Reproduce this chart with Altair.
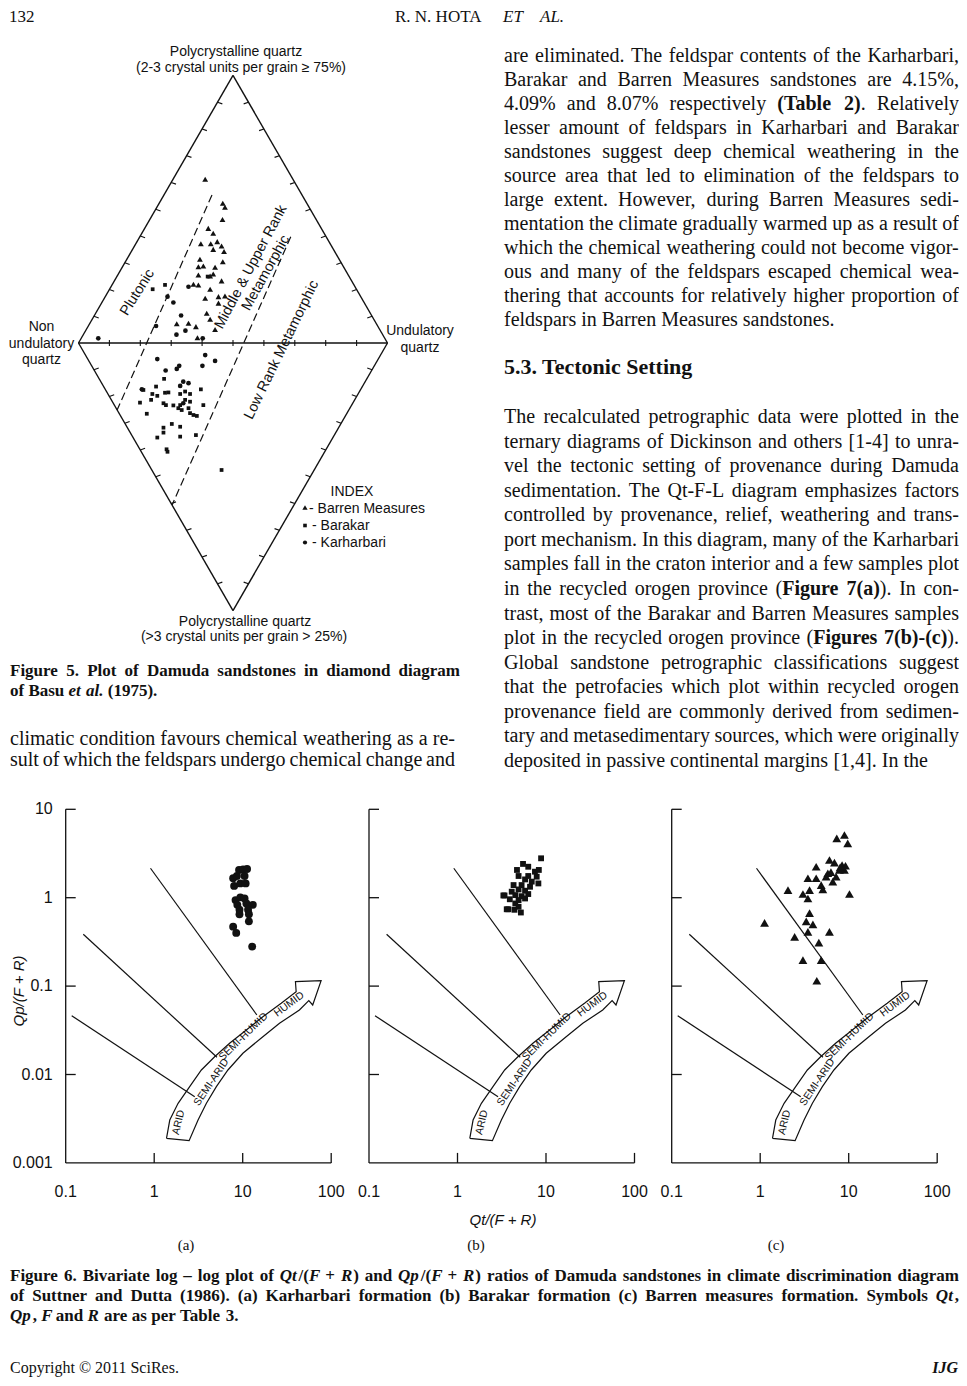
import altair as alt
import pandas as pd

# ====================== DATA ======================
HEADER_LEFT = "132"
HEADER_AUTHOR = "R. N. HOTA"
HEADER_ETAL = ["ET", "AL."]

RIGHT_PARA_1 = [
    "are eliminated. The feldspar contents of the Karharbari,",
    "Barakar and Barren Measures sandstones are 4.15%,",
    "4.09% and 8.07% respectively **(Table 2)**. Relatively",
    "lesser amount of feldspars in Karharbari and Barakar",
    "sandstones suggest deep chemical weathering in the",
    "source area that led to elimination of the feldspars to",
    "large extent. However, during Barren Measures sedi-",
    "mentation the climate gradually warmed up as a result of",
    "which the chemical weathering could not become vigor-",
    "ous and many of the feldspars escaped chemical wea-",
    "thering that accounts for relatively higher proportion of",
    "feldspars in Barren Measures sandstones.",
]
SECTION_HEADING = "5.3. Tectonic Setting"
RIGHT_PARA_2 = [
    "The recalculated petrographic data were plotted in the",
    "ternary diagrams of Dickinson and others [1-4] to unra-",
    "vel the tectonic setting of provenance during Damuda",
    "sedimentation. The Qt-F-L diagram emphasizes factors",
    "controlled by provenance, relief, weathering and trans-",
    "port mechanism. In this diagram, many of the Karharbari",
    "samples fall in the craton interior and a few samples plot",
    "in the recycled orogen province (**Figure 7(a)**). In con-",
    "trast, most of the Barakar and Barren Measures samples",
    "plot in the recycled orogen province (**Figures 7(b)-(c)**).",
    "Global sandstone petrographic classifications suggest",
    "that the petrofacies which plot within recycled orogen",
    "provenance field are commonly derived from sedimen-",
    "tary and metasedimentary sources, which were originally",
    "deposited in passive continental margins [1,4]. In the",
]
FIG5_CAPTION = [
    "Figure 5. Plot of Damuda sandstones in diamond diagram",
    "of Basu _et al._ (1975).",
]
LEFT_TEXT = [
    "climatic condition favours chemical weathering as a re-",
    "sult of which the feldspars undergo chemical change and",
]
FIG6_CAPTION = [
    "Figure 6. Bivariate log – log plot of _Qt_/(_F_ + _R_) and _Qp_/(_F_ + _R_) ratios of Damuda sandstones in climate discrimination diagram",
    "of Suttner and Dutta (1986). (a) Karharbari formation (b) Barakar formation (c) Barren measures formation. Symbols _Qt_,",
    "_Qp_, _F_ and _R_ are as per Table 3.",
]
COPYRIGHT = "Copyright © 2011 SciRes."
JOURNAL = "IJG"

# diamond diagram labels
DIA_TOP_LABEL = ["Polycrystalline quartz", "(2-3 crystal units per grain ≥ 75%)"]
DIA_BOTTOM_LABEL = ["Polycrystalline quartz", "(>3 crystal units per grain > 25%)"]
DIA_LEFT_LABEL = ["Non", "undulatory", "quartz"]
DIA_RIGHT_LABEL = ["Undulatory", "quartz"]
DIA_FIELDS = ["Plutonic", "Middle & Upper Rank", "Metamorphic", "Low Rank Metamorphic"]
INDEX_TITLE = "INDEX"
INDEX_LABELS = ["- Barren Measures", "- Barakar", "- Karharbari"]

# diamond samples: u = 0..100 from non-undulatory to undulatory corner,
# v = +86.6 (2-3 units) .. -86.6 (>3 units)
BARREN_U = [41.0, 46.7, 47.4, 46.6, 42.0, 43.6, 39.6, 42.8, 44.9, 46.3,
            43.6, 47.1, 39.3, 46.7, 38.8, 40.4, 44.2, 38.8, 42.6, 43.6,
            46.3, 37.2, 38.8, 42.6, 41.0, 45.3, 47.4, 45.3, 41.5, 42.6,
            35.6, 31.8, 38.0, 44.2, 38.5]
BARREN_V = [53.0, 45.2, 43.9, 40.0, 37.1, 35.5, 32.1, 32.1, 32.8, 31.4,
            30.3, 29.6, 27.1, 26.3, 24.7, 24.9, 24.5, 22.0, 21.7, 22.3,
            20.1, 19.0, 18.8, 17.4, 14.5, 15.0, 15.2, 12.9, 9.6, 7.7,
            6.4, 6.2, 5.3, 4.4, 1.7]
BARAKAR_U = [24.0, 28.0, 41.8,
             27.7, 25.1, 21.0, 23.9, 25.5, 23.5, 19.9, 22.1, 27.5, 28.3,
             30.7, 29.1, 28.0, 32.9, 34.5, 36.1, 39.6, 34.5, 36.1, 32.9,
             32.3, 33.4, 35.6, 37.2, 36.1, 40.4, 38.3, 30.2, 27.5, 32.9,
             27.5, 25.5, 32.9, 38.0, 28.5, 28.8, 46.3]
BARAKAR_V = [17.4, 18.8, 21.5,
             -11.6, -14.1, -15.2, -16.5, -17.1, -18.4, -19.3, -22.9, -19.5, -20.1,
             -20.2, -16.0, -16.1, -16.5, -15.7, -16.5, -15.0, -18.4, -19.0, -20.1,
             -21.1, -21.7, -21.1, -23.3, -22.7, -20.1, -23.6, -26.2, -27.4, -27.1,
             -29.0, -30.6, -30.3, -29.8, -34.4, -35.2, -41.1]
KARHAR_U = [6.4, 28.8, 30.7, 35.6, 33.2, 25.1, 31.7, 34.6, 40.2,
            25.5, 41.0, 44.2, 40.1, 28.2, 31.8, 32.6, 33.9, 35.6, 32.9, 20.5, 33.9]
KARHAR_V = [1.5, 15.0, 13.1, 18.2, 8.9, 5.5, 2.7, 4.0, 1.5,
            -5.2, -3.9, -5.8, -7.4, -8.9, -8.4, -7.4, -12.5, -13.0, -13.9, -15.0, -19.5]
# dashed field boundaries (u1, v1, u2, v2)
DIA_DASHED = [(43.2, 47.9, 12.5, -21.7), (68.7, 34.4, 30.3, -52.4)]

# climate diagram samples (Qt/(F+R), Qp/(F+R))
KAR_QT = [7.8, 8.0, 8.6, 9.1, 10.1, 11.2, 9.4, 10.8, 10.5, 8.3, 9.4, 10.5, 8.7, 11.0,
          13.0, 9.2, 11.5, 9.2, 11.75, 11.75, 7.8, 8.45, 12.8]
KAR_QP = [1.66, 1.36, 1.76, 2.06, 2.09, 2.11, 1.45, 1.45, 1.76, 0.94, 1.01, 0.98, 0.83, 0.86,
          0.83, 0.73, 0.73, 0.65, 0.65, 0.54, 0.47, 0.40, 0.28]
BAR_QT = [8.8, 5.5, 6.3, 4.7, 7.5, 8.3, 4.9, 6.3, 7.85, 5.8, 6.9, 8.2, 4.3, 5.3, 6.6, 4.9,
          5.8, 4.1, 3.4, 4.5, 5.3, 6.3, 3.9, 4.9, 5.8, 4.5, 3.75, 4.4, 5.2, 4.9, 3.3, 3.6]
BAR_QP = [2.79, 2.41, 2.24, 2.06, 1.97, 2.06, 1.76, 1.76, 1.73, 1.61, 1.52, 1.45, 1.39, 1.39,
          1.33, 1.24, 1.20, 1.17, 1.06, 1.07, 1.04, 1.10, 0.96, 0.94, 0.98, 0.86, 0.74, 0.73,
          0.68, 0.79, 1.06, 0.74]
BRN_QT = [8.95, 7.33, 9.75, 6.06, 6.90, 8.42, 8.95, 4.29, 7.86, 5.81, 7.21, 3.46, 4.29, 5.56,
          6.61, 4.89, 5.10, 3.61, 2.06, 3.04, 3.46, 10.2, 3.61, 3.31, 3.94, 3.46, 6.06, 2.45,
          4.60, 1.12, 3.04, 4.89, 4.36, 8.0, 6.3, 9.2]
BRN_QP = [5.12, 4.69, 4.12, 2.67, 2.49, 2.34, 2.06, 2.24, 2.06, 1.89, 1.73, 1.66, 1.66, 1.73,
          1.52, 1.39, 1.24, 1.22, 1.22, 1.10, 0.98, 1.10, 0.67, 0.54, 0.50, 0.41, 0.41, 0.36,
          0.31, 0.52, 0.197, 0.197, 0.115, 2.2, 1.95, 2.3]
# climate arrow outline and field dividers (same in all panels)
ARROW_QT = [1.377, 1.500, 1.862, 2.518, 3.412, 4.819, 7.112, 10.99, 16.90, 27.23, 40.18,
            39.45, 76.91, 61.80, 55.85, 43.75, 26.06, 16.90, 10.05, 6.81, 5.04, 3.89, 3.13,
            2.48, 1.377]
ARROW_QP = [0.001897, 0.003055, 0.004721, 0.007278, 0.011246, 0.015888, 0.022542, 0.031842,
            0.045082, 0.063826, 0.086497, 0.1122, 0.1151, 0.06109, 0.06839, 0.05370, 0.03793,
            0.02679, 0.01738, 0.01125, 0.007278, 0.004721, 0.003055, 0.001782, 0.001897]
DIVIDER_QT = [(0.908, 14.45), (0.158, 5.117), (0.1169, 2.871)]
DIVIDER_QP = [(2.153, 0.0471), (0.3855, 0.01567), (0.04624, 0.00561)]
ARROW_LABELS = ["ARID", "SEMI-ARID", "SEMI-HUMID", "HUMID"]
X_TICKS = [0.1, 1, 10, 100]
X_TICK_LABELS = ["0.1", "1", "10", "100"]
Y_TICKS = [10, 1, 0.1, 0.01, 0.001]
Y_TICK_LABELS = ["10", "1", "0.1", "0.01", "0.001"]
Y_TITLE = "Qp/(F + R)"
X_TITLE = "Qt/(F + R)"
PANEL_TAGS = ["(a)", "(b)", "(c)"]

# ====================== LAYOUT ======================
W, H = 951, 1370
OX, OY = 8, 8
INK = "#111111"
SERIF = "Liberation Serif"
SANS = "Liberation Sans"
RIGHT_EDGE = 959

X_PAGE = alt.Scale(domain=[OX, OX + W], nice=False, zero=False)
Y_PAGE = alt.Scale(domain=[OY, OY + H], reverse=True, nice=False, zero=False)

_UP = "ABCDEFGHIJKLMNOPQRSTUVWXYZ"
_LO = "abcdefghijklmnopqrstuvwxyz"
REG = dict(zip(_UP, [722, 667, 667, 722, 611, 556, 722, 722, 333, 389, 722, 611, 889, 722, 722,
                     556, 722, 667, 556, 611, 722, 722, 944, 722, 722, 611]))
REG.update(zip(_LO, [444, 500, 444, 500, 444, 333, 500, 500, 278, 278, 500, 278, 778, 500, 500,
                     500, 500, 333, 389, 278, 500, 500, 722, 500, 500, 444]))
REG.update({c: 500 for c in "0123456789"})
REG.update({" ": 250, "%": 833, "(": 333, ")": 333, ",": 250, "-": 333, ".": 250, "/": 278,
            ":": 278, ";": 278, "+": 564, "[": 333, "]": 333, "–": 500, "©": 760})
BLD = dict(zip(_UP, [722, 667, 722, 722, 667, 611, 778, 778, 389, 500, 778, 667, 944, 722, 778,
                     611, 778, 722, 556, 667, 722, 722, 1000, 722, 722, 667]))
BLD.update(zip(_LO, [500, 556, 444, 556, 444, 333, 500, 556, 278, 333, 556, 278, 833, 556, 500,
                     556, 556, 444, 389, 333, 556, 500, 722, 500, 500, 444]))
BLD.update({c: 500 for c in "0123456789"})
BLD.update({" ": 250, "%": 1000, "(": 333, ")": 333, ",": 250, "-": 333, ".": 250, "/": 278,
            ":": 333, ";": 333, "+": 570, "[": 333, "]": 333, "–": 500})


def tw(s, bold, size):
    tab = BLD if bold else REG
    return sum(tab.get(c, 500) for c in s) / 1000.0 * size


def parse_runs(line, bold, ital):
    runs, buf, i = [], "", 0
    while i < len(line):
        if line.startswith("**", i):
            if buf:
                runs.append((buf, bold, ital)); buf = ""
            bold = not bold; i += 2; continue
        if line[i] == "_":
            if buf:
                runs.append((buf, bold, ital)); buf = ""
            ital = not ital; i += 1; continue
        buf += line[i]; i += 1
    if buf:
        runs.append((buf, bold, ital))
    return runs


def split_words(runs):
    words = [[]]
    for text, b, it in runs:
        parts = text.split(" ")
        for k, p in enumerate(parts):
            if k > 0:
                words.append([])
            if p:
                words[-1].append((p, b, it))
    return [w for w in words if w]


def layout(lines, x0, x1, y0, dy, size, bold0=False, last_justify=False):
    out = []
    for li, line in enumerate(lines):
        ws = split_words(parse_runs(line, bold0, False))
        widths = [sum(tw(t, b, size) for t, b, _ in w) for w in ws]
        last = li == len(lines) - 1
        if (not last or last_justify) and len(ws) > 1:
            gap = (x1 - x0 - sum(widths)) / (len(ws) - 1)
        else:
            gap = 0.25 * size
        x, y = x0, y0 + li * dy
        for w, ww in zip(ws, widths):
            fx = x
            for t, b, it in w:
                out.append(dict(text=t, x=fx, y=y, size=size, bold=b, italic=it, angle=0))
                fx += tw(t, b, size)
            x += ww + gap
    return out


def row(text, x, y, size, bold=False, italic=False, angle=0):
    return dict(text=text, x=x, y=y, size=size, bold=bold, italic=italic, angle=angle)


def text_layers(rows, font, xs, ys, align="left", baseline="middle", dx=0, dy=0):
    df = pd.DataFrame(rows)
    layers = []
    for (b, it), g in df.groupby(["bold", "italic"]):
        g = g.drop(columns=["bold", "italic"]).reset_index(drop=True)
        layers.append(
            alt.Chart(g).mark_text(
                font=font, fontWeight="bold" if b else "normal",
                fontStyle="italic" if it else "normal", align=align, baseline=baseline,
                color=INK, dx=dx, dy=dy,
            ).encode(
                x=alt.X("x:Q", scale=xs, axis=None),
                y=alt.Y("y:Q", scale=ys, axis=None),
                text=alt.Text("text:N"),
                size=alt.Size("size:Q", scale=None, legend=None),
                angle=alt.Angle("angle:Q", scale=None),
            )
        )
    return layers


def seg_layer(segs, xs, ys, width=1.3, dash=None):
    df = pd.DataFrame(segs, columns=["x1", "y1", "x2", "y2"])
    props = dict(color=INK, strokeWidth=width)
    if dash:
        props["strokeDash"] = dash
    return alt.Chart(df).mark_rule(**props).encode(
        x=alt.X("x1:Q", scale=xs, axis=None), y=alt.Y("y1:Q", scale=ys, axis=None),
        x2="x2:Q", y2="y2:Q")


def point_layer(xv, yv, xs, ys, shape, size):
    df = pd.DataFrame({"x": xv, "y": yv})
    return alt.Chart(df).mark_point(shape=shape, filled=True, size=size, color=INK,
                                    opacity=1, strokeWidth=0).encode(
        x=alt.X("x:Q", scale=xs, axis=None), y=alt.Y("y:Q", scale=ys, axis=None))


# ---------------- page text ----------------
HEAD_Y = 17
FOOT_Y = 1368
left_rows = []
left_rows.append(row(HEADER_LEFT, 9, HEAD_Y, 17))
left_rows.append(row(HEADER_AUTHOR, 395, HEAD_Y, 17))
left_rows.append(row(HEADER_ETAL[0], 503, HEAD_Y, 17, italic=True))
left_rows.append(row(HEADER_ETAL[1], 540, HEAD_Y, 17, italic=True))
left_rows += layout(RIGHT_PARA_1, 504, RIGHT_EDGE, 56, 24.0, 20)
left_rows.append(row(SECTION_HEADING, 504, 367, 22, bold=True))
left_rows += layout(RIGHT_PARA_2, 504, RIGHT_EDGE, 417, 24.57, 20)
left_rows += layout(FIG5_CAPTION, 10, 460, 671, 19.5, 17, bold0=True)
left_rows += layout(LEFT_TEXT, 10, 455, 738.5, 21.7, 20, last_justify=True)
left_rows += layout(FIG6_CAPTION, 10, RIGHT_EDGE, 1276, 20, 17, bold0=True)
left_rows.append(row(COPYRIGHT, 10, FOOT_Y, 16))

right_rows = [row(JOURNAL, RIGHT_EDGE - 1, FOOT_Y, 16, bold=True, italic=True)]

center_serif = [row(t, x, 1245, 15) for t, x in zip(PANEL_TAGS, [186, 476, 776])]

DS = 14
sans_center = [
    row(DIA_TOP_LABEL[0], 236, 52, DS), row(DIA_TOP_LABEL[1], 241, 68, DS),
    row(DIA_BOTTOM_LABEL[0], 245, 622, DS), row(DIA_BOTTOM_LABEL[1], 244, 637, DS),
    row(DIA_LEFT_LABEL[0], 41.5, 327, DS), row(DIA_LEFT_LABEL[1], 41.5, 343.5, DS),
    row(DIA_LEFT_LABEL[2], 41.5, 360, DS),
    row(DIA_RIGHT_LABEL[0], 420, 331, DS), row(DIA_RIGHT_LABEL[1], 420, 348, DS),
    row(DIA_FIELDS[0], 137.5, 292.5, 14.5, angle=302),
    row(DIA_FIELDS[1], 251, 267, 14.5, angle=298),
    row(DIA_FIELDS[2], 266, 273, 14.5, angle=299),
    row(DIA_FIELDS[3], 281.7, 350, 14.5, angle=296),
    row(INDEX_TITLE, 352, 492, DS),
    row(X_TITLE, 503, 1220, 15, italic=True),
    row(Y_TITLE, 18.5, 991, 15, italic=True, angle=270),
]
sans_left = [
    row(INDEX_LABELS[0], 309, 508.5, DS),
    row(INDEX_LABELS[1], 312, 525.5, DS),
    row(INDEX_LABELS[2], 312, 542.5, DS),
]

page_layers = []
page_layers += text_layers(left_rows, SERIF, X_PAGE, Y_PAGE, align="left")
page_layers += text_layers(right_rows, SERIF, X_PAGE, Y_PAGE, align="right")
page_layers += text_layers(center_serif, SERIF, X_PAGE, Y_PAGE, align="center")
page_layers += text_layers(sans_center, SANS, X_PAGE, Y_PAGE, align="center")
page_layers += text_layers(sans_left, SANS, X_PAGE, Y_PAGE, align="left")
page_layers.append(point_layer([305], [507.5], X_PAGE, Y_PAGE, "triangle-up", 28))
page_layers.append(point_layer([305], [525.5], X_PAGE, Y_PAGE, "square", 13))
page_layers.append(point_layer([305], [542.5], X_PAGE, Y_PAGE, "circle", 18))
page = alt.layer(*page_layers)

# ---------------- diamond diagram ----------------
DIA_U0, DIA_V0, DIA_PX = 78.5, 343.0, 3.09   # page position of u=0,v=0 and px per unit
XD = alt.Scale(domain=[(OX - DIA_U0) / DIA_PX, (OX + W - DIA_U0) / DIA_PX], nice=False, zero=False)
YD = alt.Scale(domain=[(DIA_V0 - OY - H) / DIA_PX, (DIA_V0 - OY) / DIA_PX], nice=False, zero=False)
HV = 86.6
edges = [(0, 0, 50, HV), (50, HV, 100, 0), (100, 0, 50, -HV), (50, -HV, 0, 0), (0, 0, 100, 0)]
ticks = []
TL, TD = 1.55, 0.55
for k in range(1, 10):
    t = k / 10.0
    ticks.append((50 * t, HV * t, 50 * t + TL, HV * t - TD))
    ticks.append((100 - 50 * t, HV * t, 100 - 50 * t - TL, HV * t - TD))
    ticks.append((50 * t, -HV * t, 50 * t + TL, -HV * t + TD))
    ticks.append((100 - 50 * t, -HV * t, 100 - 50 * t - TL, -HV * t + TD))
    ticks.append((10 * k, -1.0, 10 * k, 1.0))
diamond = alt.layer(
    seg_layer(edges, XD, YD, 1.4),
    seg_layer(ticks, XD, YD, 1.1),
    seg_layer(DIA_DASHED, XD, YD, 1.2, dash=[8, 4]),
    point_layer(BARREN_U, BARREN_V, XD, YD, "triangle-up", 34),
    point_layer(BARAKAR_U, BARAKAR_V, XD, YD, "square", 14),
    point_layer(KARHAR_U, KARHAR_V, XD, YD, "circle", 22),
)

# ---------------- climate panels ----------------
DEC_X, DEC_Y, Y10 = 88.5, 88.4, 809.3
PANEL_X01 = [65.7, 369.0, 671.7]   # page x of Qt/(F+R) = 0.1
TICK_PX = 10
ARROW_LABEL_QT = [1.89, 4.43, 10.2, 33.5]
ARROW_LABEL_QP = [0.00288, 0.00817, 0.0268, 0.0622]
ARROW_LABEL_ANGLE = [283, 304, 316, 323]


def climate_panel(x01, qt, qp, shape, size, ylabels):
    xs = alt.Scale(type="log", nice=False,
                   domain=[10 ** (-1 - (x01 - OX) / DEC_X), 10 ** (-1 + (OX + W - x01) / DEC_X)])
    ys = alt.Scale(type="log", nice=False,
                   domain=[10 ** (1 - (OY + H - Y10) / DEC_Y), 10 ** (1 + (Y10 - OY) / DEC_Y)])
    xmin, ymin = X_TICKS[0], Y_TICKS[-1]
    xt = xmin * 10 ** (TICK_PX / DEC_X)
    yt = ymin * 10 ** (TICK_PX / DEC_Y)
    axes = [(xmin, ymin, xmin, Y_TICKS[0]), (xmin, ymin, X_TICKS[-1], ymin)]
    axes += [(xmin, v, xt, v) for v in Y_TICKS[:-1]]
    axes += [(v, ymin, v, yt) for v in X_TICKS[1:]]
    dividers = [(a[0], b[0], a[1], b[1]) for a, b in zip(DIVIDER_QT, DIVIDER_QP)]
    arrow = pd.DataFrame({"x": ARROW_QT, "y": ARROW_QP, "i": list(range(len(ARROW_QT)))})
    layers = [
        seg_layer(axes, xs, ys, 1.3),
        seg_layer(dividers, xs, ys, 1.2),
        alt.Chart(arrow).mark_line(color=INK, strokeWidth=1.2).encode(
            x=alt.X("x:Q", scale=xs, axis=None), y=alt.Y("y:Q", scale=ys, axis=None),
            order="i:Q"),
    ]
    lab = [row(t, x, y, 10.5, angle=a) for t, x, y, a in
           zip(ARROW_LABELS, ARROW_LABEL_QT, ARROW_LABEL_QP, ARROW_LABEL_ANGLE)]
    layers += text_layers(lab, SANS, xs, ys, align="center")
    xl = [row(t, v, ymin, 16) for t, v in zip(X_TICK_LABELS, X_TICKS)]
    layers += text_layers(xl, SANS, xs, ys, align="center", dy=29)
    if ylabels:
        yl = [row(t, xmin, v, 16) for t, v in zip(Y_TICK_LABELS, Y_TICKS)]
        layers += text_layers(yl, SANS, xs, ys, align="right", dx=-13)
    layers.append(point_layer(qt, qp, xs, ys, shape, size))
    return alt.layer(*layers)


pa = climate_panel(PANEL_X01[0], KAR_QT, KAR_QP, "circle", 62, True)
pb = climate_panel(PANEL_X01[1], BAR_QT, BAR_QP, "square", 34, False)
pc = climate_panel(PANEL_X01[2], BRN_QT, BRN_QP, "triangle-up", 78, False)

chart = alt.layer(page, diamond, pa, pb, pc).resolve_scale(
    x="independent", y="independent"
).properties(
    width=W, height=H, padding=0, autosize=alt.AutoSizeParams(type="none"),
    background="white",
).configure_view(strokeWidth=0)

chart.save("out.html", embed_options={"renderer": "svg", "actions": False})
